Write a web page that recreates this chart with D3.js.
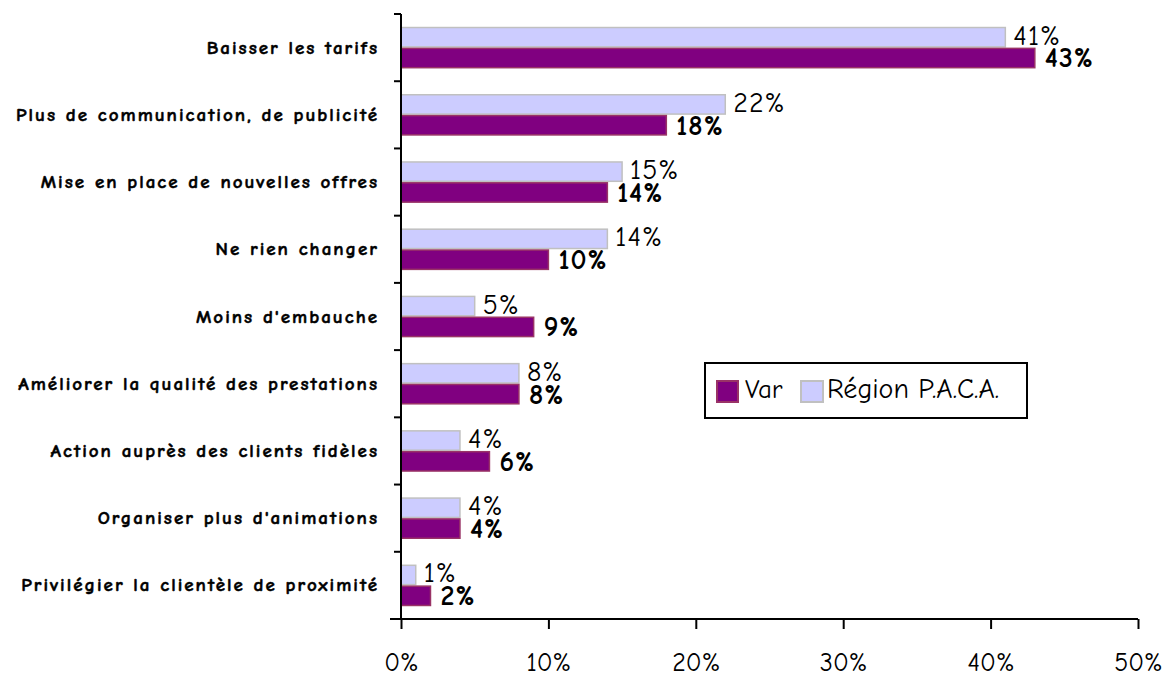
<!DOCTYPE html>
<html><head><meta charset="utf-8">
<script src="https://cdn.jsdelivr.net/npm/d3@7"></script>
<style>body{margin:0;background:#fff}svg{display:block}</style>
</head><body><svg id="c" width="1164" height="679"></svg>
<script>
const categories = ["Baisser les tarifs","Plus de communication, de publicité","Mise en place de nouvelles offres","Ne rien changer","Moins d'embauche","Améliorer la qualité des prestations","Action auprès des clients fidèles","Organiser plus d'animations","Privilégier la clientèle de proximité"];
const varValues = [43,18,14,10,9,8,6,4,2];
const regionValues = [41,22,15,14,5,8,4,4,1];
const xTicks = [0,10,20,30,40,50];
const seriesNames = ["Var","Région P.A.C.A."];

const FONT = "'Comic Sans MS','Comic Neue',Lato,'Open Sans',sans-serif";
const svg = d3.select("#c");
const x = d3.scaleLinear().domain([0,50]).range([401,1138]);
const y = d3.scaleBand().domain(categories).range([14,619]).paddingInner(0.38).paddingOuter(0.19);
const inner = d3.scaleBand().domain(["region","var"]).range([0,y.bandwidth()]);

// bars
categories.forEach((c,i)=>{
  const y0 = y(c);
  svg.append("rect").attr("x",x(0)).attr("y",y0+inner("region")+0.75)
    .attr("width",x(regionValues[i])-x(0)).attr("height",inner.bandwidth()-1.5)
    .attr("fill","#CCCCFF").attr("stroke","#C0C0C0").attr("stroke-width",1.5);
  svg.append("rect").attr("x",x(0)).attr("y",y0+inner("var")+0.75)
    .attr("width",x(varValues[i])-x(0)).attr("height",inner.bandwidth()-1.5)
    .attr("fill","#800080").attr("stroke","#993366").attr("stroke-width",1.5);
});
categories.forEach((c,i)=>{
  const y0 = y(c);
  svg.append("text").attr("x",x(regionValues[i])+8).attr("y",y0+inner("region")+inner.bandwidth()-3)
    .attr("font-family",FONT).attr("font-size",28).attr("letter-spacing",1).attr("fill","#000").text(regionValues[i]+"%");
  svg.append("text").attr("x",x(varValues[i])+10).attr("y",y0+inner("var")+inner.bandwidth()-1)
    .attr("font-family",FONT).attr("font-size",28).attr("letter-spacing",1).attr("font-weight","bold").attr("fill","#000").text(varValues[i]+"%");
});

// y axis
const yAxisScale = d3.scaleLinear().domain([0,categories.length]).range([14,619]);
svg.append("line").attr("x1",x(0)).attr("x2",x(0)).attr("y1",14).attr("y2",619).attr("stroke","#000").attr("stroke-width",2);
d3.range(categories.length+1).forEach(k=>{
  svg.append("line").attr("x1",x(0)-7).attr("x2",x(0)).attr("y1",yAxisScale(k)).attr("y2",yAxisScale(k)).attr("stroke","#000").attr("stroke-width",2);
});
categories.forEach(c=>{
  svg.append("text").attr("x",379).attr("y",y(c)+y.bandwidth()/2+6)
    .attr("text-anchor","end").attr("font-family",FONT).attr("font-size",19).attr("letter-spacing",2)
    .attr("font-weight","bold").attr("stroke","#000").attr("stroke-width",0.5).text(c);
});

// x axis
const xAxis = svg.append("g").attr("transform","translate(0,619)")
  .call(d3.axisBottom(x).tickValues(xTicks).tickFormat(d=>d+"%").tickSize(10).tickSizeOuter(0).tickPadding(24));
xAxis.select(".domain").attr("stroke","#000").attr("stroke-width",2).attr("d","M390,0H1138");
xAxis.selectAll(".tick line").attr("stroke","#000").attr("stroke-width",2);
xAxis.selectAll(".tick text").attr("font-family",FONT).attr("font-size",26).attr("fill","#000");

// legend
const lg = svg.append("g").attr("transform","translate(705,363)");
lg.append("rect").attr("width",322).attr("height",55).attr("fill","#fff").attr("stroke","#000").attr("stroke-width",2);
lg.append("rect").attr("x",12).attr("y",18).attr("width",21).attr("height",21).attr("fill","#800080").attr("stroke","#993366").attr("stroke-width",2);
lg.append("text").attr("x",40).attr("y",35).attr("font-family",FONT).attr("font-size",27).text(seriesNames[0]);
lg.append("rect").attr("x",96).attr("y",18).attr("width",22).attr("height",21).attr("fill","#CCCCFF").attr("stroke","#C0C0C0").attr("stroke-width",2);
lg.append("text").attr("x",122).attr("y",35).attr("font-family",FONT).attr("font-size",28).text(seriesNames[1]);
</script></body></html>
